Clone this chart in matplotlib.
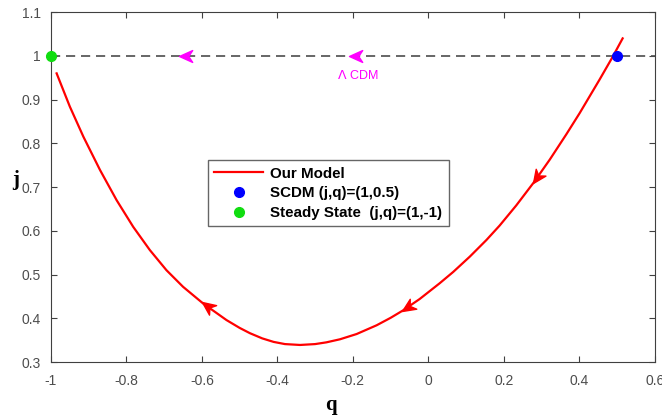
import matplotlib.pyplot as plt
import numpy as np
from matplotlib.path import Path
from matplotlib.markers import MarkerStyle
from matplotlib.transforms import Affine2D

# curve
q = [-0.985, -0.950, -0.914, -0.870, -0.826, -0.782, -0.738, -0.694, -0.650, -0.597,
     -0.535, -0.500, -0.473, -0.440, -0.410, -0.380, -0.340, -0.300, -0.270, -0.234,
     -0.190, -0.137, -0.100, -0.067, -0.023, 0.030, 0.066, 0.110, 0.154, 0.189,
     0.233, 0.278, 0.322, 0.366, 0.401, 0.454, 0.488, 0.515]
j = [0.960, 0.884, 0.815, 0.739, 0.670, 0.609, 0.556, 0.510, 0.472, 0.434,
     0.396, 0.378, 0.366, 0.354, 0.346, 0.341, 0.339, 0.341, 0.345, 0.352,
     0.364, 0.384, 0.401, 0.418, 0.444, 0.480, 0.506, 0.541, 0.579, 0.612,
     0.658, 0.709, 0.763, 0.821, 0.869, 0.946, 0.997, 1.040]

scdm = (0.5, 1.0)
steady = (-1.0, 1.0)
red_arrows = [0.278, -0.07, -0.60]     # q of arrow tips, pointing to smaller q
lcdm_arrows = [-0.66, -0.21]

fig = plt.figure(figsize=(6.62, 4.19), dpi=100)
ax = fig.add_axes([0.077, 0.136, 0.912, 0.835])
ax.set_xlim(-1, 0.6)
ax.set_ylim(0.3, 1.1)

ax.plot([-1, 0.6], [1, 1], color='0.3', lw=1.2, linestyle=(0, (5.5, 3.5)), zorder=2)
ax.plot(q, j, color='red', lw=1.6, label='Our Model', zorder=3)
ax.plot(*scdm, 'o', color='blue', ms=7, label='SCDM (j,q)=(1,0.5)', zorder=4)
ax.plot(*steady, 'o', color='#11dd11', ms=7, label='Steady State  (j,q)=(1,-1)',
        zorder=4, clip_on=False)

# barbed arrow heads
head = Path([(0, 0), (-1, 0.45), (-0.7, 0), (-1, -0.45), (0, 0)],
            [Path.MOVETO, Path.LINETO, Path.LINETO, Path.LINETO, Path.CLOSEPOLY])

def arrow(x, y, x2, y2, color):
    p1 = ax.transData.transform((x, y))
    p2 = ax.transData.transform((x2, y2))
    ang = np.degrees(np.arctan2(p1[1] - p2[1], p1[0] - p2[0]))
    m = MarkerStyle(head, transform=Affine2D().rotate_deg(ang))
    ax.plot(x, y, marker=m, ms=19, color=color, mec=color, lw=0, zorder=5)

for xa in red_arrows:
    ya = np.interp(xa, q, j)
    arrow(xa, ya, xa + 0.01, np.interp(xa + 0.01, q, j), 'red')
for xa in lcdm_arrows:
    arrow(xa, 1.0, xa + 0.01, 1.0, 'magenta')

ax.text(-0.188, 0.956, r'$\Lambda$ CDM', color='magenta', fontsize=9,
        family='Liberation Sans', ha='center', va='center')

ax.set_xticks(np.arange(-1, 0.61, 0.2))
ax.set_xticklabels(['-1', '-0.8', '-0.6', '-0.4', '-0.2', '0', '0.2', '0.4', '0.6'])
ax.set_yticks(np.arange(0.3, 1.11, 0.1))
ax.set_yticklabels(['0.3', '0.4', '0.5', '0.6', '0.7', '0.8', '0.9', '1', '1.1'])
ax.tick_params(direction='in', top=True, right=True, length=4, colors='0.25',
               labelsize=10, labelcolor='0.3')
ax.tick_params(axis='x', pad=8.5)
ax.tick_params(axis='y', pad=7.5)
for lab in ax.get_xticklabels() + ax.get_yticklabels():
    lab.set_family('Liberation Sans')
for s in ax.spines.values():
    s.set_color('0.25')

ax.set_xlabel('q', family='Liberation Serif', fontweight='bold', fontsize=15, va='center')
ax.set_ylabel('j', family='Liberation Serif', fontweight='bold', fontsize=15,
              rotation=0, va='center', ha='center')
ax.xaxis.set_label_coords(0.464, -0.123)
ax.yaxis.set_label_coords(-0.058, 0.52)

leg = ax.legend(loc='upper left', bbox_to_anchor=(0.26, 0.577), fancybox=False,
                prop={'family': 'Liberation Sans', 'weight': 'bold', 'size': 10.9},
                handlelength=3.2, handletextpad=0.5, borderpad=0.42,
                labelspacing=0.38, borderaxespad=0, framealpha=1)
leg.get_frame().set_edgecolor('0.4')
leg.get_frame().set_linewidth(1.0)

fig.savefig('out.png', dpi=100)
